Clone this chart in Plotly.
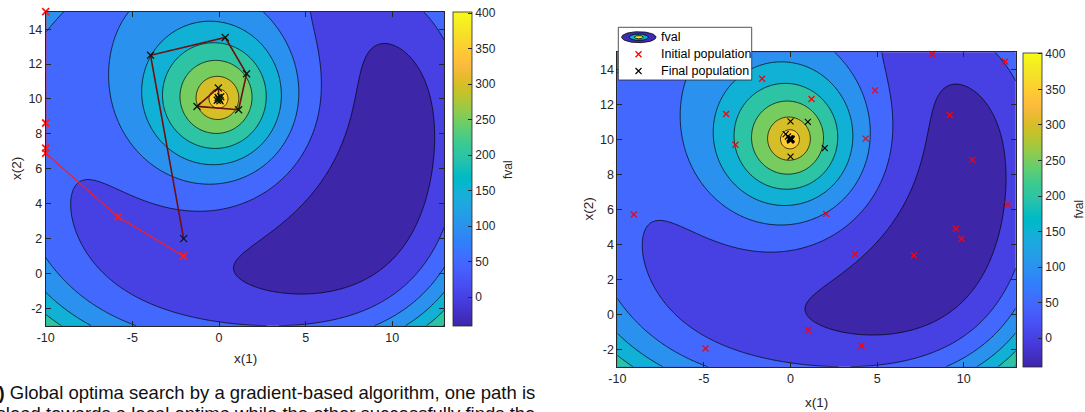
import numpy as np
import plotly.graph_objects as go

W, H = 1085, 412

# ---- objective: smooth bowl (degree-5 polynomial) plus a radial peak at (0, 10) ----
BOWL_COEF = [-134.034, -16.9422, 46.8959, -19.6853, 42.3356, -12.9617,
             -35.4382, -9.47292, 2.56875, 3.52836, 9.33788, 55.1059,
             -16.9487, 59.0907, -6.09353, 10.4207, -1.55048, 3.5626,
             62.8818, -17.5089, 16.7448]
PEAK_CENTER = (0.0, 10.0)
PEAK_AMP = [571.496, -42.3329]
PEAK_LEN = [5.25, 1.80]
DEG = 5


def pbasis(x, y):
    u = (x - 1.5) / 11.5
    v = (y - 6) / 9
    return np.stack([u ** i * v ** j for i in range(DEG + 1) for j in range(DEG + 1 - i)], -1)


def fval(x, y):
    rr = np.hypot(x - PEAK_CENTER[0], y - PEAK_CENTER[1])
    return (pbasis(x, y) @ np.array(BOWL_COEF)
            + PEAK_AMP[0] * np.exp(-rr / PEAK_LEN[0])
            + PEAK_AMP[1] * np.exp(-(rr / PEAK_LEN[1]) ** 2))


xs = np.linspace(-10, 13, 231)
ys = np.linspace(-3, 15, 181)
XX, YY = np.meshgrid(xs, ys)
Z = fval(XX, YY)

# ---- colours (parula) ----
PARULA = [
    (0.2422, 0.1504, 0.6603), (0.2504, 0.1650, 0.7076), (0.2578, 0.1818, 0.7511), (0.2647, 0.1978, 0.7952),
    (0.2706, 0.2147, 0.8364), (0.2751, 0.2342, 0.8710), (0.2783, 0.2559, 0.8991), (0.2803, 0.2782, 0.9221),
    (0.2813, 0.3006, 0.9414), (0.2810, 0.3228, 0.9579), (0.2795, 0.3447, 0.9717), (0.2760, 0.3667, 0.9829),
    (0.2699, 0.3892, 0.9906), (0.2602, 0.4123, 0.9952), (0.2440, 0.4358, 0.9988), (0.2206, 0.4603, 0.9973),
    (0.1963, 0.4847, 0.9892), (0.1834, 0.5074, 0.9798), (0.1786, 0.5289, 0.9682), (0.1764, 0.5499, 0.9520),
    (0.1687, 0.5703, 0.9359), (0.1540, 0.5902, 0.9218), (0.1460, 0.6091, 0.9079), (0.1380, 0.6276, 0.8973),
    (0.1248, 0.6459, 0.8883), (0.1113, 0.6635, 0.8763), (0.0952, 0.6798, 0.8598), (0.0689, 0.6948, 0.8394),
    (0.0297, 0.7082, 0.8163), (0.0036, 0.7203, 0.7917), (0.0067, 0.7312, 0.7660), (0.0433, 0.7411, 0.7394),
    (0.0964, 0.7500, 0.7120), (0.1408, 0.7584, 0.6842), (0.1717, 0.7670, 0.6554), (0.1938, 0.7758, 0.6251),
    (0.2161, 0.7843, 0.5923), (0.2470, 0.7918, 0.5567), (0.2906, 0.7973, 0.5188), (0.3406, 0.8008, 0.4789),
    (0.3909, 0.8029, 0.4354), (0.4456, 0.8024, 0.3909), (0.5044, 0.7993, 0.3480), (0.5616, 0.7942, 0.3045),
    (0.6174, 0.7876, 0.2612), (0.6720, 0.7793, 0.2227), (0.7242, 0.7698, 0.1910), (0.7738, 0.7598, 0.1646),
    (0.8203, 0.7498, 0.1535), (0.8634, 0.7406, 0.1596), (0.9035, 0.7330, 0.1774), (0.9393, 0.7288, 0.2100),
    (0.9728, 0.7298, 0.2394), (0.9956, 0.7434, 0.2371), (0.9970, 0.7659, 0.2199), (0.9952, 0.7893, 0.2028),
    (0.9892, 0.8136, 0.1885), (0.9786, 0.8386, 0.1766), (0.9676, 0.8639, 0.1643), (0.9610, 0.8890, 0.1537),
    (0.9597, 0.9135, 0.1423), (0.9628, 0.9373, 0.1265), (0.9691, 0.9606, 0.1064), (0.9769, 0.9839, 0.0805),
]


def rgb(c):
    return "rgb(%d,%d,%d)" % tuple(round(255 * v) for v in c)


def parula(t):
    t = min(max(t, 0.0), 1.0) * 63
    i = min(int(t), 62)
    f = t - i
    a, b = PARULA[i], PARULA[i + 1]
    return rgb(tuple(a[k] + (b[k] - a[k]) * f for k in range(3)))


PARULA_SCALE = [[i / 63, rgb(c)] for i, c in enumerate(PARULA)]
CMIN, CMAX = -40, 402
LEVELS = list(range(0, 351, 50))
# each filled band takes the colour of its lower level; the region below 0 takes the lowest colour
band_cols = [parula(0)] + [parula((lv - CMIN) / (CMAX - CMIN)) for lv in LEVELS]
BAND_SCALE = [[k / 8, c] for k, c in enumerate(band_cols)]

# ---- paths and populations ----
PATH_TRAPPED_X = [-10, -10, -10, -10, -5.83, -2.05]
PATH_TRAPPED_Y = [15, 8.62, 7.18, 6.89, 3.24, 0.99]
PATH_GLOBAL_X = [-2.04, -3.95, 0.36, 1.59, 1.13, -1.27, -0.04, 0.0, 0.1, -0.1, 0.06, -0.05, 0.0]
PATH_GLOBAL_Y = [1.99, 12.5, 13.52, 11.44, 9.38, 9.57, 10.63, 10.0, 10.12, 9.92, 9.9, 10.08, 10.0]
INIT_X = [8.19, 12.39, -1.64, 4.88, 1.21, -3.72, 9.19, -3.18, 4.34, 10.5,
          12.53, -9.05, 2.06, 9.54, 9.87, 3.72, 7.13, 1.02, -4.91, 4.1]
INIT_Y = [14.9, 14.47, 13.49, 12.82, 12.33, 11.47, 11.41, 9.71, 10.06, 8.84,
          6.29, 5.71, 5.75, 4.91, 4.33, 3.45, 3.37, -0.9, -1.96, -1.81]
FINAL_X = [0.0, 1.0, -0.28, -0.15, 1.98, 0.0, -0.05, 0.03, 0.0, 0.06,
           -0.02, 0.02, 0.0, 0.04, -0.04, 0.01, 0.0, 0.05, -0.03, 0.0]
FINAL_Y = [11.05, 11.02, 10.31, 10.18, 9.52, 9.03, 10.08, 9.98, 10.0, 10.03,
           9.96, 10.05, 10.01, 9.99, 10.02, 9.97, 10.0, 10.06, 10.04, 9.98]
X_TICKS = [-10, -5, 0, 5, 10]
Y_TICKS = list(range(-2, 15, 2))
CB_TICKS = list(range(0, 401, 50))

INK = "#262626"
FONT = "Liberation Sans, Arial, Helvetica, sans-serif"

fig = go.Figure()


def contour(xa, ya):
    return go.Contour(
        x=xs, y=ys, z=Z, xaxis=xa, yaxis=ya, autocontour=False,
        contours=dict(start=0, end=350, size=50, coloring="fill", showlines=True),
        line=dict(color="black", width=0.7), colorscale=BAND_SCALE,
        showscale=False, hoverinfo="skip", showlegend=False)


def cbar(xa, ya, xpix, ytop, ybot):
    # continuous parula colour bar, carried by an off-range marker
    return go.Scatter(
        x=[1e4], y=[1e4], xaxis=xa, yaxis=ya, mode="markers", showlegend=False, hoverinfo="skip",
        marker=dict(color=[0], colorscale=PARULA_SCALE, cmin=CMIN, cmax=CMAX, showscale=True,
                    colorbar=dict(x=xpix / W, xanchor="left", y=1 - (ytop + ybot) / 2 / H, yanchor="middle",
                                  len=(ybot - ytop) / H, lenmode="fraction", thickness=18.5,
                                  thicknessmode="pixels", xpad=0, ypad=0, outlinecolor=INK,
                                  outlinewidth=0.8, ticks="inside", ticklen=4, tickwidth=0.8,
                                  tickcolor=INK, tickvals=CB_TICKS,
                                  tickfont=dict(size=12, color=INK, family=FONT))))


fig.add_trace(contour("x", "y"))
fig.add_trace(contour("x2", "y2"))


def xmark(col, size, w):
    return dict(symbol="x-thin", size=size, color=col, line=dict(color=col, width=w))


fig.add_trace(go.Scatter(x=PATH_TRAPPED_X, y=PATH_TRAPPED_Y, mode="lines+markers", xaxis="x", yaxis="y",
                         line=dict(color="#ff1a1a", width=1.2), marker=xmark("#ff1a1a", 7, 1.8),
                         cliponaxis=False, showlegend=False, hoverinfo="skip"))
fig.add_trace(go.Scatter(x=PATH_GLOBAL_X, y=PATH_GLOBAL_Y, mode="lines+markers", xaxis="x", yaxis="y",
                         line=dict(color="#6e0f0f", width=1.6), marker=xmark("#0a1a0a", 7, 1.3),
                         cliponaxis=False, showlegend=False, hoverinfo="skip"))
fig.add_trace(go.Scatter(x=INIT_X, y=INIT_Y, mode="markers", xaxis="x2", yaxis="y2",
                         marker=xmark("#ff0000", 6, 1.3), cliponaxis=False, showlegend=False, hoverinfo="skip"))
fig.add_trace(go.Scatter(x=FINAL_X, y=FINAL_Y, mode="markers", xaxis="x2", yaxis="y2",
                         marker=xmark("#000000", 6, 1.1), cliponaxis=False, showlegend=False, hoverinfo="skip"))

fig.add_trace(cbar("x", "y", 453.3, 11.7, 325.7))
fig.add_trace(cbar("x2", "y2", 1023, 52.3, 366.7))

# legend box, drawn in a pixel-space overlay so it sits above the right-hand plot
LX0, LX1, LY0, LY1 = 618.3, 751.7, 27.3, 80.0
fig.add_trace(go.Scatter(x=[LX0, LX1, LX1, LX0, LX0], y=[LY0, LY0, LY1, LY1, LY0], mode="lines",
                         fill="toself", fillcolor="white", line=dict(color=INK, width=0.8),
                         xaxis="x3", yaxis="y3", showlegend=False, hoverinfo="skip"))
t = np.linspace(0, 2 * np.pi, 80)
for rx, ry, col in ((17.2, 5.5, parula(0.02)), (9.5, 3.2, parula(0.45)), (4.5, 1.6, parula(0.97))):
    fig.add_trace(go.Scatter(x=638.8 + rx * np.cos(t), y=37.2 + ry * np.sin(t), mode="lines", fill="toself",
                             fillcolor=col, line=dict(color="black", width=0.8), xaxis="x3", yaxis="y3",
                             showlegend=False, hoverinfo="skip"))
fig.add_trace(go.Scatter(x=[638.5], y=[54.3], mode="markers", marker=xmark("#ff0000", 6, 1.3),
                         xaxis="x3", yaxis="y3", showlegend=False, hoverinfo="skip"))
fig.add_trace(go.Scatter(x=[638.5], y=[71.0], mode="markers", marker=xmark("#000000", 6, 1.1),
                         xaxis="x3", yaxis="y3", showlegend=False, hoverinfo="skip"))

axis = dict(showline=True, linecolor=INK, linewidth=0.8, mirror="ticks", ticks="inside", ticklen=5,
            tickwidth=0.8, tickcolor=INK, showgrid=False, zeroline=False, automargin=False,
            tickfont=dict(size=12.5, color=INK, family=FONT))
xt = dict(tickvals=X_TICKS, ticktext=[str(v) for v in X_TICKS], range=[-10, 13])
yt = dict(tickvals=Y_TICKS, ticktext=[str(v) for v in Y_TICKS], range=[-3, 15])

fig.update_layout(
    width=W, height=H, margin=dict(l=0, r=0, t=0, b=0, autoexpand=False),
    paper_bgcolor="white", plot_bgcolor="rgba(0,0,0,0)",
    font=dict(family=FONT, color=INK),
    xaxis=dict(domain=[45.7 / W, 444.3 / W], anchor="y", **axis, **xt),
    yaxis=dict(domain=[1 - 325.7 / H, 1 - 11.7 / H], anchor="x", **axis, **yt),
    xaxis2=dict(domain=[617.3 / W, 1015.7 / W], anchor="y2", **axis, **xt),
    yaxis2=dict(domain=[1 - 366.7 / H, 1 - 52.3 / H], anchor="x2", **axis, **yt),
    xaxis3=dict(domain=[0, 1], range=[0, W], visible=False, anchor="y3", fixedrange=True, automargin=False),
    yaxis3=dict(domain=[0, 1], range=[H, 0], visible=False, anchor="x3", fixedrange=True, automargin=False),
)

ann = []


def label(text, xp, yp, size=13.5, angle=0, color=INK, xanchor="center", yanchor="middle"):
    ann.append(dict(text=text, x=xp / W, y=1 - yp / H, xref="paper", yref="paper", showarrow=False,
                    textangle=angle, xanchor=xanchor, yanchor=yanchor,
                    font=dict(size=size, color=color, family=FONT)))


label("x(1)", 245, 358)
label("x(1)", 816.5, 402.7)
label("x(2)", 17, 169, angle=-90)
label("x(2)", 588, 209.5, angle=-90)
label("fval", 508, 170, size=12, angle=-90)
label("fval", 1078, 209.5, size=12, angle=-90)
label("fval", 659, 37.2, size=12.5, color="black", xanchor="left")
label("Initial population", 659, 54.3, size=12.5, color="black", xanchor="left")
label("Final population", 659, 71.0, size=12.5, color="black", xanchor="left")
label("<b>(a)</b> Global optima search by a gradient-based algorithm, one path is", 537, 392,
      size=18.5, color="#111111", xanchor="right")
label("mislead towards a local optima while the other successfully finds the", 537, 413,
      size=18.5, color="#111111", xanchor="right")
fig.update_layout(annotations=ann)

fig.write_html("out.html")
